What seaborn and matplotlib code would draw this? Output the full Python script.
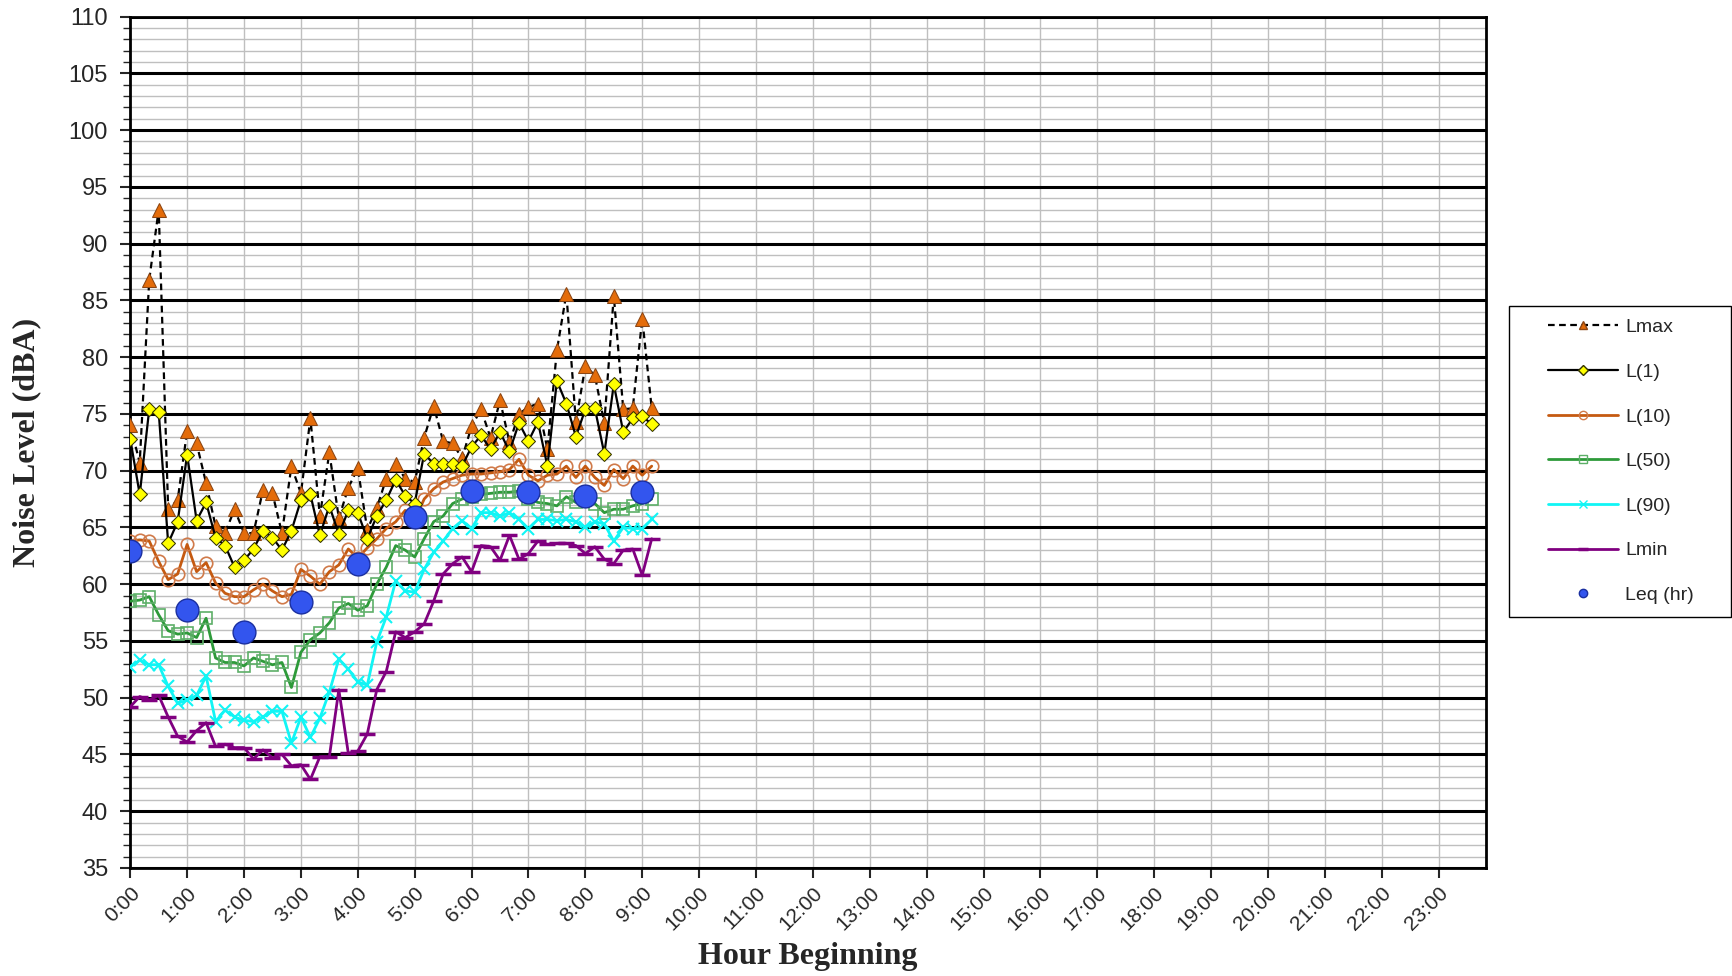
import numpy as np
import pandas as pd
import matplotlib
matplotlib.use("Agg")
import matplotlib.pyplot as plt
from matplotlib.lines import Line2D
from matplotlib.patches import Rectangle
from matplotlib.ticker import MultipleLocator
import seaborn as sns

# 10-minute samples starting at midnight (hours)
minutes = np.arange(0, 560, 10)
hours = minutes / 60

lmax = [74.0, 70.7, 86.8, 93.0, 66.6, 67.4, 73.5, 72.4, 68.9, 65.1,
        64.5, 66.6, 64.5, 64.5, 68.3, 68.0, 64.5, 70.4, 68.0, 74.6,
        66.0, 71.6, 65.8, 68.5, 70.2, 64.8, 66.7, 69.3, 70.6, 69.3,
        69.0, 72.9, 75.7, 72.6, 72.4, 71.1, 73.9, 75.4, 72.9, 76.2,
        72.5, 75.0, 75.6, 75.9, 71.9, 80.6, 85.6, 74.3, 79.2, 78.4,
        74.2, 85.4, 75.4, 75.5, 83.4, 75.5]
l1 = [72.8, 67.9, 75.4, 75.2, 63.6, 65.5, 71.4, 65.6, 67.2, 64.1,
      63.4, 61.5, 62.1, 63.1, 64.7, 64.1, 63.0, 64.7, 67.4, 67.9,
      64.3, 66.9, 64.4, 66.5, 66.3, 64.0, 66.0, 67.4, 69.2, 67.8,
      67.1, 71.5, 70.6, 70.6, 70.6, 70.4, 72.1, 73.1, 71.9, 73.4,
      71.7, 74.2, 72.6, 74.3, 70.4, 77.9, 75.9, 73.0, 75.4, 75.5,
      71.5, 77.6, 73.4, 74.6, 74.8, 74.1]
l10 = [63.8, 63.9, 63.8, 62.0, 60.4, 60.9, 63.5, 61.1, 61.9, 60.1,
       59.2, 58.9, 58.9, 59.5, 60.0, 59.4, 58.9, 59.1, 61.3, 60.7,
       60.0, 61.1, 61.7, 63.1, 62.3, 63.2, 64.0, 64.9, 65.5, 66.5,
       65.6, 67.5, 68.4, 69.0, 69.3, 69.6, 69.7, 69.7, 69.8, 69.9,
       70.1, 71.0, 69.6, 69.1, 69.6, 69.7, 70.4, 69.4, 70.4, 69.4,
       68.7, 70.1, 69.3, 70.4, 69.6, 70.4]
l50 = [58.5, 58.6, 58.9, 57.3, 55.9, 55.6, 55.7, 55.3, 57.0, 53.5,
       53.1, 53.1, 52.8, 53.5, 53.2, 52.9, 53.1, 50.9, 54.0, 55.1,
       55.7, 56.6, 57.9, 58.3, 57.7, 58.1, 60.0, 61.5, 63.4, 63.0,
       62.4, 64.0, 65.5, 66.0, 67.1, 67.5, 67.7, 67.9, 68.0, 68.1,
       68.1, 68.2, 67.5, 67.2, 67.1, 66.9, 67.7, 67.2, 67.4, 67.1,
       66.3, 66.6, 66.6, 66.9, 67.1, 67.5]
l90 = [52.7, 53.3, 52.9, 52.9, 51.0, 49.5, 49.8, 50.2, 51.9, 47.9,
       48.9, 48.3, 48.0, 47.9, 48.3, 48.8, 48.8, 46.0, 48.3, 46.5,
       48.2, 50.5, 53.4, 52.5, 51.4, 51.1, 54.9, 57.1, 60.3, 59.4,
       59.3, 61.3, 62.8, 63.8, 64.9, 65.6, 64.9, 66.3, 66.3, 66.0,
       66.3, 65.7, 64.9, 65.7, 65.7, 65.6, 65.7, 65.5, 65.0, 65.5,
       65.3, 63.8, 65.0, 64.9, 64.9, 65.7]
lmin = [49.2, 50.1, 49.8, 50.2, 48.3, 46.6, 46.1, 47.1, 47.8, 45.7,
        45.9, 45.6, 45.6, 44.6, 45.4, 44.7, 45.0, 44.0, 44.1, 42.8,
        44.8, 44.8, 50.7, 45.1, 45.3, 46.8, 50.7, 52.3, 55.8, 55.3,
        55.8, 56.5, 58.5, 60.9, 61.8, 62.4, 61.1, 63.4, 63.3, 62.1,
        64.3, 62.2, 62.7, 63.8, 63.5, 63.6, 63.6, 63.4, 62.7, 63.3,
        62.2, 61.8, 63.0, 63.1, 60.8, 64.0]

leq_hours = [0, 1, 2, 3, 4, 5, 6, 7, 8, 9]
leq = [62.9, 57.7, 55.8, 58.4, 61.8, 65.9, 68.2, 68.1, 67.8, 68.1]

hour_labels = [f"{h}:00" for h in range(24)]

df = pd.DataFrame({"hour": hours, "Lmax": lmax, "L(1)": l1, "L(10)": l10,
                   "L(50)": l50, "L(90)": l90, "Lmin": lmin})

sns.set_style("white")
plt.rcParams["font.family"] = ["Liberation Sans", "DejaVu Sans"]
serif = ["Liberation Serif", "DejaVu Serif"]

fig, ax = plt.subplots(figsize=(17.32, 9.76), dpi=100)
fig.subplots_adjust(left=0.0752, right=0.858, top=0.983, bottom=0.1107)

# series styles
c_l10 = "#C55A11"
c_l50 = "#2E9A3A"
c_l90 = "#11F5F5"
c_min = "#800080"

sns.lineplot(data=df, x="hour", y="Lmax", ax=ax, color="black", lw=1.6,
             linestyle=(0, (3, 2)), marker="^", markersize=10,
             markerfacecolor="#E46C0A", markeredgecolor="#8B4513", zorder=5)
sns.lineplot(data=df, x="hour", y="L(1)", ax=ax, color="black", lw=1.6,
             marker="D", markersize=7, markerfacecolor="#FFFF00",
             markeredgecolor="#333300", zorder=6)
sns.lineplot(data=df, x="hour", y="L(10)", ax=ax, color=c_l10, lw=2,
             marker="o", markersize=9, markerfacecolor="none",
             markeredgecolor="#D07A4A", markeredgewidth=1.2, zorder=4)
sns.lineplot(data=df, x="hour", y="L(50)", ax=ax, color=c_l50, lw=2,
             marker="s", markersize=9, markerfacecolor="none",
             markeredgecolor="#5DAF68", markeredgewidth=1.2, zorder=4)
sns.lineplot(data=df, x="hour", y="L(90)", ax=ax, color=c_l90, lw=2,
             marker="x", markersize=8, markeredgecolor=c_l90,
             markeredgewidth=1.5, zorder=4)
sns.lineplot(data=df, x="hour", y="Lmin", ax=ax, color=c_min, lw=2,
             marker="_", markersize=11, markeredgecolor=c_min,
             markeredgewidth=2.5, zorder=4)
sns.scatterplot(x=leq_hours, y=leq, ax=ax, s=270, color="#3355EE",
                edgecolor="#1a2fa0", linewidth=1, zorder=7)

# axes and grid
ax.set_xlim(0, 23 + 50 / 60)
ax.set_ylim(35, 110)
ax.set_xticks(range(24))
ax.set_xticklabels(hour_labels, rotation=45, ha="right",
                   rotation_mode="anchor", fontsize=15)
ax.yaxis.set_major_locator(MultipleLocator(5))
ax.yaxis.set_minor_locator(MultipleLocator(1))
ax.tick_params(axis="y", which="major", labelsize=17, length=7,
               width=1.5, direction="out", left=True, pad=9)
ax.tick_params(axis="y", which="minor", length=5, width=1, left=True)
ax.tick_params(axis="x", which="major", length=7, width=1.5,
               direction="out", bottom=True, pad=4)
ax.grid(which="minor", axis="y", color="#BFBFBF", lw=1)
ax.grid(which="major", axis="x", color="#BFBFBF", lw=1)
ax.grid(which="major", axis="y", color="black", lw=2.2)
ax.set_axisbelow(True)
for sp in ax.spines.values():
    sp.set_color("black")
    sp.set_linewidth(2)

ax.set_xlabel("Hour Beginning", fontsize=23, fontweight="bold", family=serif)
ax.set_ylabel("Noise Level (dBA)", fontsize=23, fontweight="bold", family=serif)
ax.xaxis.set_label_coords(0.5, -0.087)
ax.yaxis.set_label_coords(-0.066, 0.5)

# legend (frame drawn separately so it reaches the figure edge)
handles = [
    Line2D([], [], color="black", lw=1.6, linestyle=(0, (3, 2)), marker="^",
           markersize=6, markerfacecolor="#E46C0A", markeredgecolor="#8B4513"),
    Line2D([], [], color="black", lw=1.6, marker="D", markersize=5,
           markerfacecolor="#FFFF00", markeredgecolor="#333300"),
    Line2D([], [], color=c_l10, lw=2, marker="o", markersize=6,
           markerfacecolor="none", markeredgecolor="#D07A4A"),
    Line2D([], [], color=c_l50, lw=2, marker="s", markersize=6,
           markerfacecolor="none", markeredgecolor="#5DAF68"),
    Line2D([], [], color=c_l90, lw=2, marker="x", markersize=6,
           markeredgecolor=c_l90),
    Line2D([], [], color=c_min, lw=2, marker="_", markersize=7,
           markeredgecolor=c_min, markeredgewidth=2.5),
    Line2D([], [], color="none", marker="o", markersize=6,
           markerfacecolor="#3355EE", markeredgecolor="#1a2fa0"),
]
labels = ["Lmax", "L(1)", "L(10)", "L(50)", "L(90)", "Lmin", "Leq (hr)"]
ax.legend(handles, labels, loc="upper left",
          bbox_to_anchor=(0.894, 0.6735), bbox_transform=fig.transFigure,
          fontsize=14, frameon=False, handlelength=3.6, handletextpad=0.35,
          labelspacing=1.39, borderpad=0, borderaxespad=0)
fig.add_artist(Rectangle((0.8715, 0.368), 0.1280, 0.3187,
                         transform=fig.transFigure, fill=False,
                         edgecolor="black", lw=1))

fig.savefig("out.png", dpi=100)
